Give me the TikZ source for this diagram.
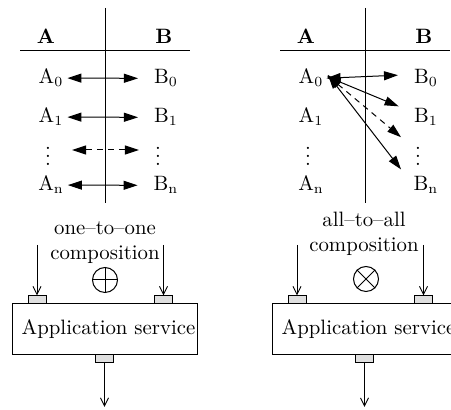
\documentclass[tikz,border=0pt]{standalone}
\usetikzlibrary{arrows.meta}

\tikzset{
	every node/.append style={font=\fontsize{10.4}{12.5}\selectfont},
	pair/.style={{Triangle[length=7pt,width=4.5pt]}-{Triangle[length=7pt,width=4.5pt]}},
	feed/.style={-{Straight Barb[length=4pt,width=4pt]}},
	port/.style={draw, fill=gray!25, minimum width=9pt, minimum height=4pt, inner sep=0pt},
	appbox/.style={draw, minimum width=92.5pt, minimum height=25.5pt, inner sep=0pt},
	compose/.style={draw, circle, minimum size=12.5pt, inner sep=0pt},
}

\begin{document}
\begin{tikzpicture}[x=0.5pt, y=-0.5pt, line width=0.5pt]
	\useasboundingbox (0,0) rectangle (451,410);

	% Draw tables
	\foreach \dx in {0,260} {
		\draw (105+\dx, 8) -- (105+\dx, 203);
		\draw (20+\dx, 51) -- (190+\dx, 51);
		\node at (46+\dx, 36) {\textbf{A}};
		\node at (164+\dx, 36) {\textbf{B}};
	}

	% Row labels
	\foreach \p/\dx in {l/0, r/260} {
		\foreach \i/\y in {0/84, 1/123, n/191} {
			\node[anchor=base] (\p A\i) at (51+\dx, \y) {A$_{\mathrm{\i}}$};
			\node[anchor=base] (\p B\i) at (166+\dx, \y) {B$_{\mathrm{\i}}$};
		}
		\node (\p Ad) at (48+\dx, 150) {$\vdots$};
		\node (\p Bd) at (158+\dx, 150) {$\vdots$};
	}

	% One-to-one pairs
	\foreach \i in {0,1,n} {
		\draw[pair, shorten <=-1.5pt, shorten >=4.5pt] (lA\i) -- (lB\i);
	}
	\draw[pair, dashed, dash pattern=on 3pt off 2.5pt, shorten <=7pt, shorten >=4.5pt] (lAd) -- (lBd);

	% All-to-all pairs
	\draw[pair, shorten <=-2pt, shorten >=4.5pt] (rA0.east) -- ([yshift=1.8pt]rB0.west);
	\draw[pair, shorten <=-2pt, shorten >=4.5pt] (rA0.east) -- ([yshift=3.8pt]rB1.west);
	\draw[pair, dashed, dash pattern=on 3pt off 2.5pt, shorten <=-2pt, shorten >=4.5pt] (rA0.east) -- ([yshift=3.5pt]rBd.west);
	\draw[pair, shorten <=-2pt, shorten >=4.5pt] (rA0.east) -- ([yshift=4.4pt]rBn.west);

	% Composition labels and operators
	\node[align=center] (lname) at (105, 243) {one--to--one\\composition};
	\node[align=center] (rname) at (364, 234) {all--to--all\\composition};
	\node[compose] (lop) at (105, 280) {};
	\draw (lop.north) -- (lop.south) (lop.west) -- (lop.east);
	\node[compose] (rop) at (366, 279) {};
	\draw (rop.north west) -- (rop.south east) (rop.north east) -- (rop.south west);

	% Application services
	\foreach \p/\dx in {l/0, r/260} {
		\node[appbox] (\p app) at (104.5+\dx, 329.5) {\hspace*{4pt}Application service};
		\node[port] (\p in1) at (37+\dx, 300) {};
		\node[port] (\p in2) at (163.5+\dx, 300) {};
		\node[port] (\p out) at (104.5+\dx, 359) {};
		\coordinate (\p src1) at (37+\dx, 245);
		\coordinate (\p src2) at (163.5+\dx, 245);
		\coordinate (\p sink) at (104.5+\dx, 407);
		\draw[feed] (\p src1) -- (\p in1);
		\draw[feed] (\p src2) -- (\p in2);
		\draw[feed] (\p out) -- (\p sink);
	}
\end{tikzpicture}
\end{document}
